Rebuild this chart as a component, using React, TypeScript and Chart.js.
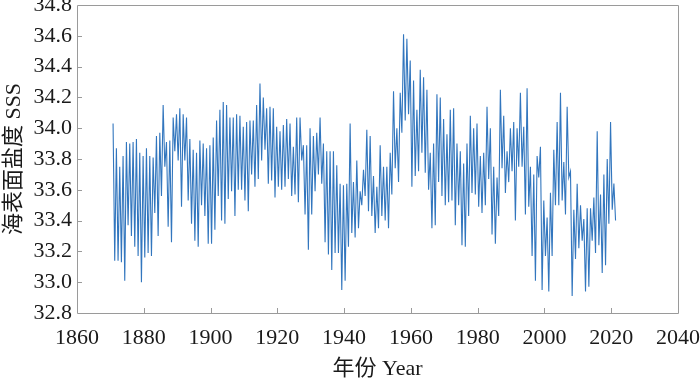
import React, { useEffect, useRef } from "react";
import { Chart, registerables } from "chart.js";

Chart.register(...registerables);

// Annual salinity cycle: yearly peak (high) and trough (low), 1871–2021
const firstYear = 1871;
const highs = [
  34.03, 33.87, 33.75, 33.82, 33.91, 33.90, 33.91, 33.93, 33.84, 33.82,
  33.87, 33.82, 33.81, 33.95, 33.97, 34.15, 33.91, 33.92, 34.07, 34.09,
  34.13, 34.09, 34.07, 33.93, 33.86, 33.84, 33.92, 33.90, 33.87, 33.89,
  33.94, 34.05, 34.12, 34.17, 34.15, 34.07, 34.07, 34.09, 34.08, 34.01,
  34.04, 34.05, 34.05, 34.15, 34.29, 34.20, 34.13, 34.14, 34.13, 34.01,
  33.98, 34.02, 34.06, 34.03, 33.88, 34.07, 34.07, 33.89, 33.89, 34.00,
  33.95, 33.97, 34.07, 33.90, 33.85, 33.85, 33.85, 33.76, 33.64, 33.63,
  33.64, 34.03, 33.65, 33.79, 33.59, 33.73, 33.99, 33.95, 33.69, 33.62,
  33.89, 33.75, 33.75, 33.84, 34.24, 34.00, 34.23, 34.61, 34.58, 34.44,
  34.31, 34.12, 34.38, 34.33, 34.25, 33.84, 33.90, 34.22, 34.20, 34.06,
  33.96, 34.12, 34.13, 33.90, 33.85, 33.77, 33.90, 34.08, 34.00, 34.03,
  33.82, 33.84, 34.14, 34.00, 33.75, 33.68, 34.25, 34.08, 33.85, 34.00,
  34.04, 34.00, 34.23, 34.01, 34.26, 33.75, 33.70, 33.82, 33.88, 33.53,
  33.42, 33.58, 33.86, 34.04, 34.23, 33.78, 34.14, 33.72, 33.47, 33.64,
  33.50, 33.41, 33.48, 33.48, 33.55, 33.98, 33.57, 33.70, 33.80, 34.04,
  33.64,
];
const lows = [
  33.14, 33.14, 33.13, 33.01, 33.37, 33.30, 33.23, 33.17, 33.00, 33.16,
  33.19, 33.17, 33.45, 33.30, 33.56, 33.75, 33.36, 33.26, 33.85, 33.79,
  33.49, 33.79, 33.53, 33.38, 33.27, 33.23, 33.50, 33.43, 33.25, 33.25,
  33.34, 33.56, 33.40, 33.38, 33.54, 33.59, 33.43, 33.60, 33.60, 33.53,
  33.46, 33.70, 33.62, 33.67, 33.79, 33.86, 33.64, 33.66, 33.55, 33.62,
  33.60, 33.62, 33.67, 33.56, 33.57, 33.52, 33.79, 33.44, 33.21, 33.44,
  33.59, 33.70, 33.64, 33.26, 33.18, 33.08, 33.19, 33.19, 32.95, 33.01,
  33.23, 33.32, 33.29, 33.35, 33.50, 33.56, 33.46, 33.43, 33.32, 33.35,
  33.43, 33.40, 33.35, 33.57, 33.74, 33.65, 33.97, 34.05, 34.09, 33.62,
  33.69, 33.72, 33.84, 33.71, 33.60, 33.35, 33.37, 33.65, 33.56, 33.50,
  33.52, 33.53, 33.37, 33.50, 33.24, 33.23, 33.43, 33.58, 33.57, 33.49,
  33.45, 33.50, 33.67, 33.31, 33.25, 33.43, 33.74, 33.58, 33.65, 33.72,
  33.40, 33.75, 33.75, 33.44, 33.49, 33.17, 33.01, 33.68, 32.95, 33.17,
  32.94, 33.17, 33.50, 33.50, 33.53, 33.44, 33.68, 32.91, 33.15, 33.22,
  33.27, 32.94, 32.97, 33.27, 33.19, 33.24, 33.06, 33.11, 33.38, 33.47,
  33.40,
];
const years = highs.map((_, i) => firstYear + i);

const xTicks = [1860, 1880, 1900, 1920, 1940, 1960, 1980, 2000, 2020, 2040];
const yTicks = [32.8, 33.0, 33.2, 33.4, 33.6, 33.8, 34.0, 34.2, 34.4, 34.6, 34.8];

const yTitle = "海表面盐度 SSS";
const xTitle = "年份 Year";

const FONT = "'Liberation Serif', 'Times New Roman', 'Noto Sans CJK SC', serif";

const frameTicks = {
  id: "frameTicks",
  afterDraw(chart: any) {
    const { ctx, chartArea, scales } = chart;
    const { left, right, top, bottom } = chartArea;
    ctx.save();
    ctx.strokeStyle = "#9a9a9a";
    ctx.lineWidth = 1;
    ctx.beginPath();
    ctx.rect(Math.round(left) + 0.5, Math.round(top) + 0.5, Math.round(right - left), Math.round(bottom - top));
    ctx.stroke();
    ctx.beginPath();
    for (const t of scales.x.ticks) {
      const px = Math.round(scales.x.getPixelForValue(t.value)) + 0.5;
      if (px <= left + 1 || px >= right - 1) continue;
      ctx.moveTo(px, Math.round(bottom));
      ctx.lineTo(px, Math.round(bottom) - 5);
    }
    for (const t of scales.y.ticks) {
      const py = Math.round(scales.y.getPixelForValue(t.value)) + 0.5;
      if (py <= top + 1 || py >= bottom - 1) continue;
      ctx.moveTo(Math.round(left), py);
      ctx.lineTo(Math.round(left) + 5, py);
    }
    ctx.stroke();
    ctx.restore();
  },
};

export default function App() {
  const ref = useRef<HTMLCanvasElement | null>(null);
  useEffect(() => {
    if (!ref.current) return;
    const points: { x: number; y: number }[] = [];
    years.forEach((yr, i) => {
      points.push({ x: yr - 0.2, y: highs[i] });
      points.push({ x: yr + 0.3, y: lows[i] });
    });
    const chart = new Chart(ref.current, {
      type: "line",
      data: {
        datasets: [
          {
            data: points,
            borderColor: "#3276be",
            borderWidth: 1.1,
            pointRadius: 0,
            tension: 0,
            fill: false,
          },
        ],
      },
      options: {
        responsive: false,
        animation: false,
        devicePixelRatio: 1,
        layout: { padding: { left: 0, right: 22, top: 5, bottom: 0 } },
        plugins: { legend: { display: false }, tooltip: { enabled: false } },
        scales: {
          x: {
            type: "linear",
            min: 1860,
            max: 2040,
            afterBuildTicks: (s: any) => {
              s.ticks = xTicks.map((v) => ({ value: v }));
            },
            ticks: {
              callback: (v: any) => String(v),
              color: "#1a1a1a",
              font: { family: FONT, size: 22 },
              padding: 12,
              maxRotation: 0,
              autoSkip: false,
            },
            grid: { display: false, drawTicks: false },
            border: { display: false },
            title: {
              display: true,
              text: xTitle,
              color: "#1a1a1a",
              font: { family: FONT, size: 22, lineHeight: 1.0 },
              padding: { top: 0, bottom: 0 },
            },
            afterFit: (s: any) => {
              s.height = 67;
              s.paddingLeft = 0;
              s.paddingRight = 0;
            },
          },
          y: {
            type: "linear",
            min: 32.8,
            max: 34.8,
            afterBuildTicks: (s: any) => {
              s.ticks = yTicks.map((v) => ({ value: v }));
            },
            ticks: {
              callback: (v: any) => Number(v).toFixed(1),
              color: "#1a1a1a",
              font: { family: FONT, size: 22 },
              padding: 5,
              autoSkip: false,
            },
            grid: { display: false, drawTicks: false },
            border: { display: false },
            title: {
              display: true,
              text: yTitle,
              color: "#1a1a1a",
              font: { family: FONT, size: 22 },
              padding: { top: 1, bottom: 0 },
            },
            afterFit: (s: any) => {
              s.width = 77;
              s.paddingTop = 0;
              s.paddingBottom = 0;
            },
          },
        },
      },
      plugins: [frameTicks],
    });
    return () => chart.destroy();
  }, []);
  return (
    <div style={{ position: "absolute", left: 0, top: 0, width: 700, height: 380, background: "#fff" }}>
      <canvas ref={ref} width={700} height={380} />
    </div>
  );
}
